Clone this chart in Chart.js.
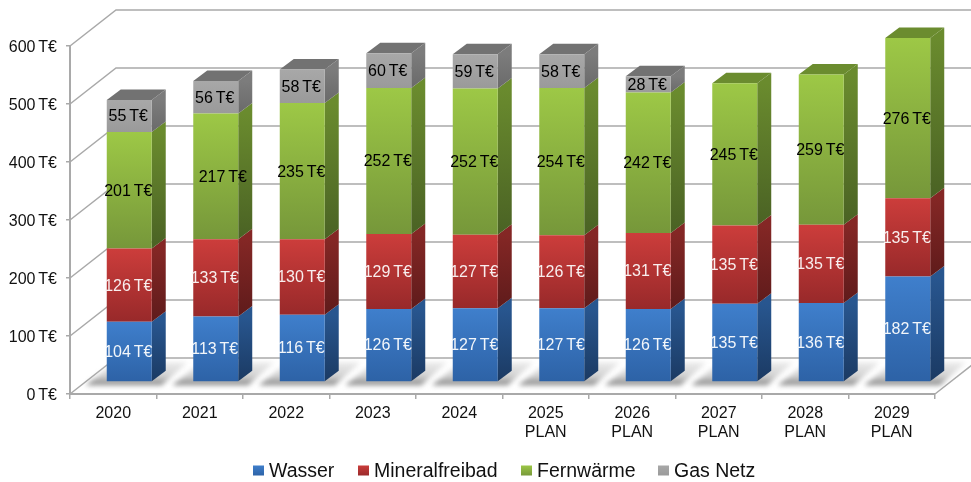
<!DOCTYPE html>
<html lang="de">
<head>
<meta charset="utf-8">
<style>html,body{margin:0;padding:0;background:#fff}canvas{display:block;filter:blur(.4px)}</style>
<script src="https://cdn.jsdelivr.net/npm/chart.js@4"></script>
</head>
<body>
<canvas id="c" width="971" height="482"></canvas>
<script>
const categories = ["2020","2021","2022","2023","2024",["2025","PLAN"],["2026","PLAN"],["2027","PLAN"],["2028","PLAN"],["2029","PLAN"]];
const wasser = [104,113,116,126,127,127,126,135,136,182];
const mineralfreibad = [126,133,130,129,127,126,131,135,135,135];
const fernwaerme = [201,217,235,252,252,254,242,245,259,276];
const gasNetz = [55,56,58,60,59,58,28,null,null,null];
const yTicks = [0,100,200,300,400,500,600];

const FONT = '"Liberation Sans", Arial, sans-serif';
const WALL = {dx:46, dy:-36};
const BAR  = {dx:16, dy:-12};
const SIDE = {dx:14, dy:-10.5};
const GRID = '#a9a9a9';
const looks = [
  {ft:'#3f7fcc',fb:'#2d62a6',st:'#28568f',sb:'#1b3a63',cap:'#2c5c98',label:'#f2f6fa'},
  {ft:'#cc3d3b',fb:'#98292a',st:'#842725',sb:'#5f1b1b',cap:'#8a2a28',label:'#f8eeee'},
  {ft:'#9dc846',fb:'#76973a',st:'#6a8b2e',sb:'#4a6224',cap:'#6b8c2f',label:'#000'},
  {ft:'#a8a8a8',fb:'#9a9a9a',st:'#7c7c7c',sb:'#6a6a6a',cap:'#727272',label:'#000'}
];
const seriesValues = [wasser, mineralfreibad, fernwaerme, gasNetz];
const seriesNames = ['Wasser','Mineralfreibad','Fernwärme','Gas Netz'];

function stackTop(s,i){let t=0;for(let k=0;k<=s;k++)t+=seriesValues[k][i]||0;return t;}

function faceGradient(c,s){
  const y=c.chart.scales.y, i=c.dataIndex;
  if(!y||i===undefined) return looks[s].ft;
  const top=y.getPixelForValue(stackTop(s,i)), bot=y.getPixelForValue(stackTop(s,i)-(seriesValues[s][i]||0));
  if(!isFinite(top)||!isFinite(bot)||top===bot) return looks[s].ft;
  const g=c.chart.ctx.createLinearGradient(0,top,0,bot);
  g.addColorStop(0,looks[s].ft); g.addColorStop(1,looks[s].fb);
  return g;
}

const scene = {
  id:'scene',
  beforeDraw(chart){
    chart.ctx.wordSpacing='-1.6px';
    chart.scales.y.getLabelItems().forEach(it=>{
      if(!it.nudged){it.options.translation[1]+=1.5;it.nudged=true;}
    });
  },
  beforeDatasetsDraw(chart){
    const {ctx,chartArea:a,scales:{y}}=chart;
    ctx.save();
    ctx.strokeStyle=GRID; ctx.lineWidth=1.5;
    yTicks.forEach(v=>{
      const p=y.getPixelForValue(v);
      ctx.beginPath();
      ctx.moveTo(a.left,p);
      ctx.lineTo(a.left+WALL.dx,p+WALL.dy);
      ctx.lineTo(chart.width+2,p+WALL.dy);
      ctx.stroke();
    });
    ctx.beginPath();
    ctx.moveTo(a.right,y.getPixelForValue(0));
    ctx.lineTo(a.right+WALL.dx,y.getPixelForValue(0)+WALL.dy);
    ctx.stroke();
    ctx.restore();

    // floor shadows
    const m0=chart.getDatasetMeta(0);
    m0.data.forEach(b=>{
      const base=b.base+BAR.dy, l=b.x-b.width/2+BAR.dx, r=b.x+b.width/2+BAR.dx;
      ctx.save();
      ctx.filter='blur(2.5px)';
      const g=ctx.createLinearGradient(0,base-19,0,base+4);
      g.addColorStop(0,'rgba(215,215,215,.5)');
      g.addColorStop(.6,'rgba(190,190,190,.7)');
      g.addColorStop(1,'rgba(120,120,120,.95)');
      ctx.fillStyle=g;
      ctx.beginPath();
      ctx.moveTo(l-21,base+4);
      ctx.lineTo(r+10,base+4);
      ctx.lineTo(r+36,base-19);
      ctx.lineTo(l+8,base-19);
      ctx.closePath(); ctx.fill();
      ctx.restore();
    });

    // column sides and caps
    ctx.save();
    ctx.translate(BAR.dx,BAR.dy);
    seriesValues.forEach((vals,s)=>{
      const meta=chart.getDatasetMeta(s), lk=looks[s];
      meta.data.forEach((b,i)=>{
        if(!vals[i]) return;
        const r=b.x+b.width/2, l=b.x-b.width/2, top=b.y, bot=b.base;
        const g=ctx.createLinearGradient(0,top,0,bot);
        g.addColorStop(0,lk.st); g.addColorStop(1,lk.sb);
        ctx.fillStyle=g;
        ctx.beginPath();
        ctx.moveTo(r,bot); ctx.lineTo(r+SIDE.dx,bot+SIDE.dy);
        ctx.lineTo(r+SIDE.dx,top+SIDE.dy); ctx.lineTo(r,top);
        ctx.closePath(); ctx.fill();
        if(stackTop(s,i)===stackTop(3,i)){
          ctx.fillStyle=lk.cap;
          ctx.beginPath();
          ctx.moveTo(l,top); ctx.lineTo(r,top);
          ctx.lineTo(r+SIDE.dx,top+SIDE.dy); ctx.lineTo(l+SIDE.dx,top+SIDE.dy);
          ctx.closePath(); ctx.fill();
        }
      });
    });
    ctx.restore();

    ctx.save();
    ctx.translate(BAR.dx,BAR.dy);
  },
  afterDatasetsDraw(chart){
    const {ctx}=chart;
    ctx.restore();
    ctx.save();
    ctx.font='16px '+FONT;
    ctx.textAlign='center'; ctx.textBaseline='middle';
    seriesValues.forEach((vals,s)=>{
      const meta=chart.getDatasetMeta(s);
      ctx.fillStyle=looks[s].label;
      meta.data.forEach((b,i)=>{
        if(!vals[i]) return;
        const nudge=(s===2&&i===1)?8:0;
        ctx.fillText(vals[i]+' T€',b.x+BAR.dx-1+nudge,(b.y+b.base)/2+BAR.dy+1);
      });
    });
    ctx.font='19.5px '+FONT; ctx.textAlign='left';
    ctx.wordSpacing='0px';
    const items=[253,358,521,658];
    seriesNames.forEach((n,s)=>{
      const x=items[s], g=ctx.createLinearGradient(0,465,0,476);
      g.addColorStop(0,looks[s].ft); g.addColorStop(1,looks[s].fb);
      ctx.fillStyle=g; ctx.fillRect(x,465.5,11,10);
      ctx.fillStyle='#111';
      ctx.fillText(n,x+16,471.5);
    });
    ctx.restore();
  }
};

new Chart(document.getElementById('c'),{
  type:'bar',
  data:{
    labels:categories,
    datasets:seriesValues.map((vals,s)=>({
      label:seriesNames[s],
      data:vals,
      backgroundColor:c=>faceGradient(c,s),
      borderWidth:0,
      categoryPercentage:1,
      barPercentage:.52,
      clip:false
    }))
  },
  options:{
    responsive:false,
    animation:false,
    layout:{padding:{top:46,right:36,left:0,bottom:0}},
    plugins:{legend:{display:false},tooltip:{enabled:false},title:{display:false}},
    scales:{
      x:{
        stacked:true,
        afterFit:s=>{s.height=88;},
        grid:{drawOnChartArea:false,color:GRID,tickLength:5,lineWidth:1.5},
        border:{color:GRID,width:2},
        ticks:{color:'#111',font:{family:FONT,size:16},padding:5,maxRotation:0,autoSkip:false}
      },
      y:{
        stacked:true,
        min:0,max:600,
        afterFit:s=>{s.width=70;},
        grid:{drawOnChartArea:false,color:GRID,tickLength:4,lineWidth:1.5},
        border:{color:GRID,width:2},
        ticks:{stepSize:100,color:'#111',font:{family:FONT,size:16},padding:9,callback:v=>v+' T€'}
      }
    }
  },
  plugins:[scene]
});
</script>
</body>
</html>
